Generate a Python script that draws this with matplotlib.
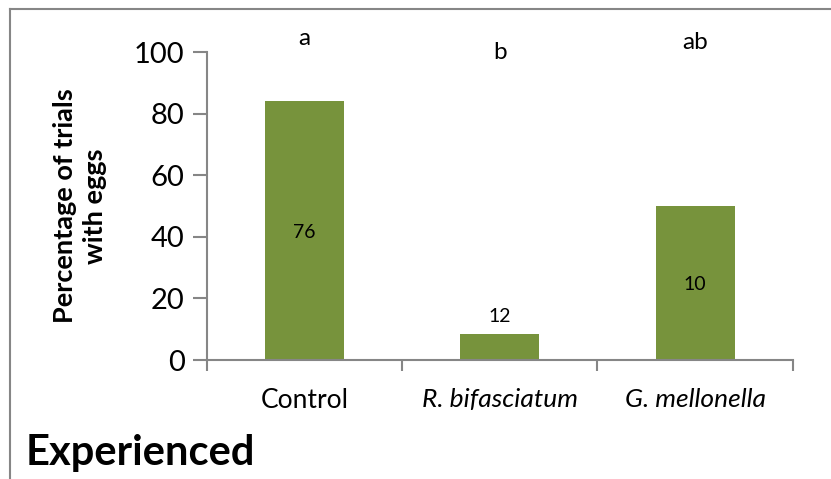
import matplotlib
matplotlib.use("Agg")
import matplotlib.pyplot as plt
from matplotlib.lines import Line2D

plt.rcParams['font.family'] = ['Lato', 'DejaVu Sans']

# data
groups = ['Control', 'R. bifasciatum', 'G. mellonella']
pct_eggs = [84, 8.3, 50]
n_trials = ['76', '12', '10']
n_ypos = [41.5, 14, 24.5]
letters = ['a', 'b', 'ab']
letter_ypos = [104.5, 99.7, 103]

green = '#77933C'
grey = '#868686'

fig = plt.figure(figsize=(8.31, 4.79), dpi=100)
ax = fig.add_axes([0.249, 0.2484, 0.705, 0.643])

x = list(range(len(groups)))
ax.bar(x, pct_eggs, width=0.405, color=green, zorder=2)

for xi, lab, yy in zip(x, n_trials, n_ypos):
    ax.text(xi, yy, lab, ha='center', va='center', fontsize=14, color='black')
for xi, lab, yy in zip(x, letters, letter_ypos):
    ax.text(xi, yy, lab, ha='center', va='center', fontsize=17.5, clip_on=False)

ax.set_xlim(-0.5, 2.5)
ax.set_ylim(0, 100)
ax.set_yticks([0, 20, 40, 60, 80, 100])
ax.tick_params(axis='y', labelsize=21, length=10, width=1.5, color=grey, pad=6)
ax.set_xticks([-0.5, 0.5, 1.5, 2.5], minor=False)
ax.set_xticklabels([])
ax.tick_params(axis='x', length=8, width=1.5, color=grey)
ax.set_xticks(x, minor=True)
ax.set_xticklabels(groups, minor=True)
ax.tick_params(axis='x', which='minor', length=0, labelsize=19, pad=20)
for t, lab in zip(ax.get_xticklabels(minor=True), groups):
    if lab != 'Control':
        t.set_style('italic')

for s in ['top', 'right']:
    ax.spines[s].set_visible(False)
for s in ['left', 'bottom']:
    ax.spines[s].set_color(grey)
    ax.spines[s].set_linewidth(1.5)

ax.set_ylabel('Percentage of trials\nwith eggs', fontsize=19.5, fontweight='bold',
              linespacing=1.3)
ax.yaxis.set_label_coords(-0.171, 0.5)

fig.text(0.031, 0.03, 'Experienced', fontsize=30, fontweight='bold', ha='left', va='baseline')

# outer frame (top and left edges visible)
fig.add_artist(Line2D([0.012, 1.0], [0.981, 0.981], color=grey, lw=1.5, transform=fig.transFigure))
fig.add_artist(Line2D([0.012, 0.012], [0.0, 0.981], color=grey, lw=1.5, transform=fig.transFigure))

fig.savefig('out.png', dpi=100)
